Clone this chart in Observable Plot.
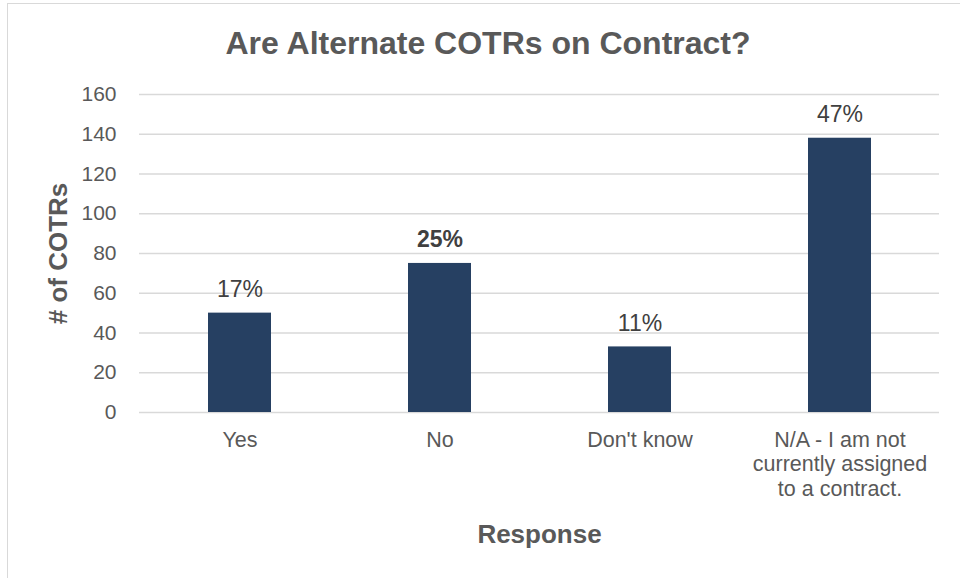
<!DOCTYPE html>
<html>
<head>
<meta charset="utf-8">
<script src="https://cdn.jsdelivr.net/npm/d3@7"></script>
<script src="https://cdn.jsdelivr.net/npm/@observablehq/plot@0.6"></script>
<style>
  html, body { margin: 0; padding: 0; background: #fff; }
  #wrap { position: relative; width: 960px; height: 578px; overflow: hidden; font-family: "Liberation Sans", Arial, sans-serif; }
  #frame { position: absolute; left: 7px; top: 3px; width: 1000px; height: 700px; border: 1.5px solid #d9d9d9; box-sizing: border-box; }
  #title { position: absolute; left: 0; top: 25px; width: 976px; text-align: center; font-weight: bold; font-size: 32px; color: #595959; line-height: 36px; }
  #chart { position: absolute; left: 0; top: 0; }
</style>
</head>
<body>
<div id="wrap">
  <div id="frame"></div>
  <div id="chart"></div>
  <div id="title">Are Alternate COTRs on Contract?</div>
</div>
<script>
const categories = ["Yes", "No", "Don't know", "N/A - I am not\ncurrently assigned\nto a contract."];
const counts = [50, 75, 33, 138];
const percentLabels = ["17%", "25%", "11%", "47%"];
const boldLabels = ["No"];
const yTicks = [0, 20, 40, 60, 80, 100, 120, 140, 160];
const xTitle = "Response";
const yTitle = "# of COTRs";

const data = categories.map((c, i) => ({category: c, count: counts[i], label: percentLabels[i], bold: boldLabels.includes(c)}));

const chart = Plot.plot({
  width: 960,
  height: 578,
  marginLeft: 139,
  marginRight: 21,
  marginTop: 94,
  marginBottom: 166,
  style: {fontFamily: "'Liberation Sans', Arial, sans-serif", fontSize: "21px", color: "#595959", background: "transparent", overflow: "visible"},
  x: {domain: categories, paddingInner: 0.687, paddingOuter: 0.3435, label: null},
  y: {domain: [0, 160], label: null},
  marks: [
    Plot.gridY(yTicks, {stroke: "#d9d9d9", strokeOpacity: 1, strokeWidth: 1.5}),
    Plot.barY(data, {x: "category", y: "count", fill: "#264062"}),
    Plot.axisY(yTicks, {tickSize: 0, tickPadding: 23, fontSize: 21, fill: "#595959", label: null}),
    Plot.axisX({tickSize: 0, tickPadding: 17, fontSize: 21.5, lineHeight: 1.14, fill: "#595959", label: null}),
    Plot.text(data.filter(d => !d.bold), {x: "category", y: "count", text: "label", dy: -16, lineAnchor: "bottom", fontSize: 23, fill: "#404040"}),
    Plot.text(data.filter(d => d.bold), {x: "category", y: "count", text: "label", dy: -16, lineAnchor: "bottom", fontSize: 23, fontWeight: "bold", fill: "#404040"}),
    Plot.text([xTitle], {frameAnchor: "bottom", text: d => d, dy: 130, lineAnchor: "bottom", textAnchor: "middle", fontSize: 26, fontWeight: "bold", fill: "#595959"}),
    Plot.text([yTitle], {frameAnchor: "left", text: d => d, dx: -81, rotate: -90, textAnchor: "middle", fontSize: 26, fontWeight: "bold", fill: "#595959"})
  ]
});
document.getElementById("chart").appendChild(chart);
</script>
</body>
</html>
